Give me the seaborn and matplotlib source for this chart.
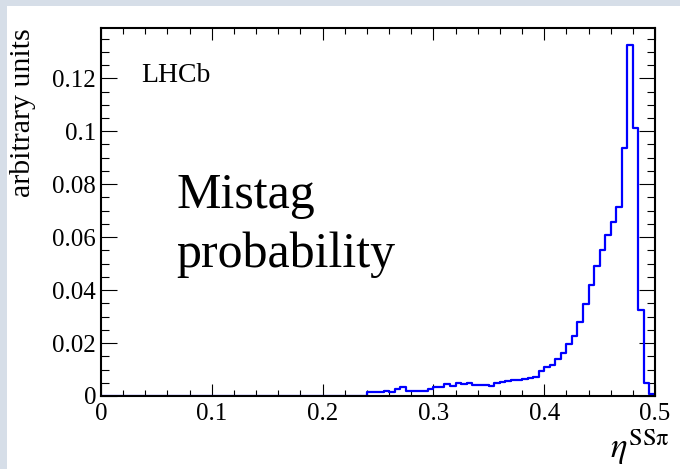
import matplotlib as mpl
mpl.use("Agg")
import matplotlib.pyplot as plt
import matplotlib.ticker as mticker
import seaborn as sns
import numpy as np
import pandas as pd

# histogram: 100 bins of width 0.005 between 0 and 0.5
bin_edges = [round(0.005 * i, 3) for i in range(101)]

# bins 0-47 are empty
tail_values = [
    0.0016, 0.0016, 0.0016, 0.0020, 0.0014, 0.0026, 0.0033, 0.0020,   # 48-55
    0.0020, 0.0020, 0.0020, 0.0026, 0.0033, 0.0033, 0.0044, 0.0038,   # 56-63
    0.0048, 0.0046, 0.0048, 0.0042, 0.0042, 0.0042, 0.0038, 0.0048,   # 64-71
    0.0052, 0.0055, 0.0060, 0.0060, 0.0063, 0.0067,                   # 72-77
]
peak_values = [
    0.0073, 0.0096, 0.0111, 0.0117, 0.0140, 0.0164, 0.0197, 0.0225,   # 78-85
    0.0278, 0.0348, 0.0418, 0.0492, 0.0550, 0.0607, 0.0657, 0.0713,   # 86-93
    0.0935, 0.1325, 0.1013, 0.0326, 0.0048, 0.0006,                   # 94-99
]
values = [0.0] * 48 + tail_values + peak_values

x_ticks = [0.0, 0.1, 0.2, 0.3, 0.4, 0.5]
y_ticks = [0.0, 0.02, 0.04, 0.06, 0.08, 0.10, 0.12]

df = pd.DataFrame({
    "eta": [0.5 * (a + b) for a, b in zip(bin_edges[:-1], bin_edges[1:])],
    "w": values,
})

sns.set_style("ticks")
plt.rcParams["font.family"] = ["Liberation Serif", "DejaVu Serif"]
plt.rcParams["mathtext.fontset"] = "stix"
plt.rcParams["text.color"] = "black"
plt.rcParams["axes.labelcolor"] = "black"

fig = plt.figure(figsize=(6.8, 4.69), dpi=100)
fig.patch.set_facecolor("#d6dee8")
# white slide panel
fig.add_artist(plt.Rectangle((7 / 680, 0), 1, 1 - 6 / 469, transform=fig.transFigure,
                             facecolor="white", edgecolor="none", zorder=0))

ax = fig.add_axes([101 / 680, 1 - 396 / 469, 554 / 680, 368 / 469])
ax.set_facecolor("white")

sns.histplot(data=df, x="eta", weights="w", bins=bin_edges, element="step",
             fill=False, color="#0000ff", linewidth=1.6, ax=ax)

ax.set_xlim(0, 0.5)
ax.set_ylim(0, 0.139)
ax.set_xticks(x_ticks)
ax.set_yticks(y_ticks)
ax.xaxis.set_minor_locator(mticker.MultipleLocator(0.02))
ax.yaxis.set_minor_locator(mticker.MultipleLocator(0.005))
fmt = mticker.FuncFormatter(lambda v, p: "%g" % round(v, 4))
ax.xaxis.set_major_formatter(fmt)
ax.yaxis.set_major_formatter(fmt)

for s in ax.spines.values():
    s.set_linewidth(1.5)
    s.set_color("black")

ax.tick_params(axis="both", which="both", direction="in", top=True, right=True,
               colors="black", labelcolor="black", width=0.8, labelsize=18)
ax.tick_params(axis="x", which="major", length=8.6, pad=5)
ax.tick_params(axis="x", which="minor", length=4)
ax.tick_params(axis="y", which="major", length=11.5, pad=3.5)
ax.tick_params(axis="y", which="minor", length=5.8)

ax.set_ylabel("arbitrary units", fontsize=21.5, loc="top")
ax.yaxis.set_label_coords(-0.117, 1.0)
ax.set_xlabel(r"$\eta^{\mathrm{SSπ}}$", fontsize=25, loc="right")
ax.xaxis.set_label_coords(1.027, -0.085)

ax.text(0.073, 0.854, "LHCb", transform=ax.transAxes, fontsize=20,
        ha="left", va="baseline")
ax.text(0.1355, (396 - 208) / 368, "Mistag", transform=ax.transAxes,
        fontsize=36, ha="left", va="baseline")
ax.text(0.1355, (396 - 267) / 368, "probability", transform=ax.transAxes,
        fontsize=36, ha="left", va="baseline")

fig.savefig("out.png", dpi=100, facecolor=fig.get_facecolor())
